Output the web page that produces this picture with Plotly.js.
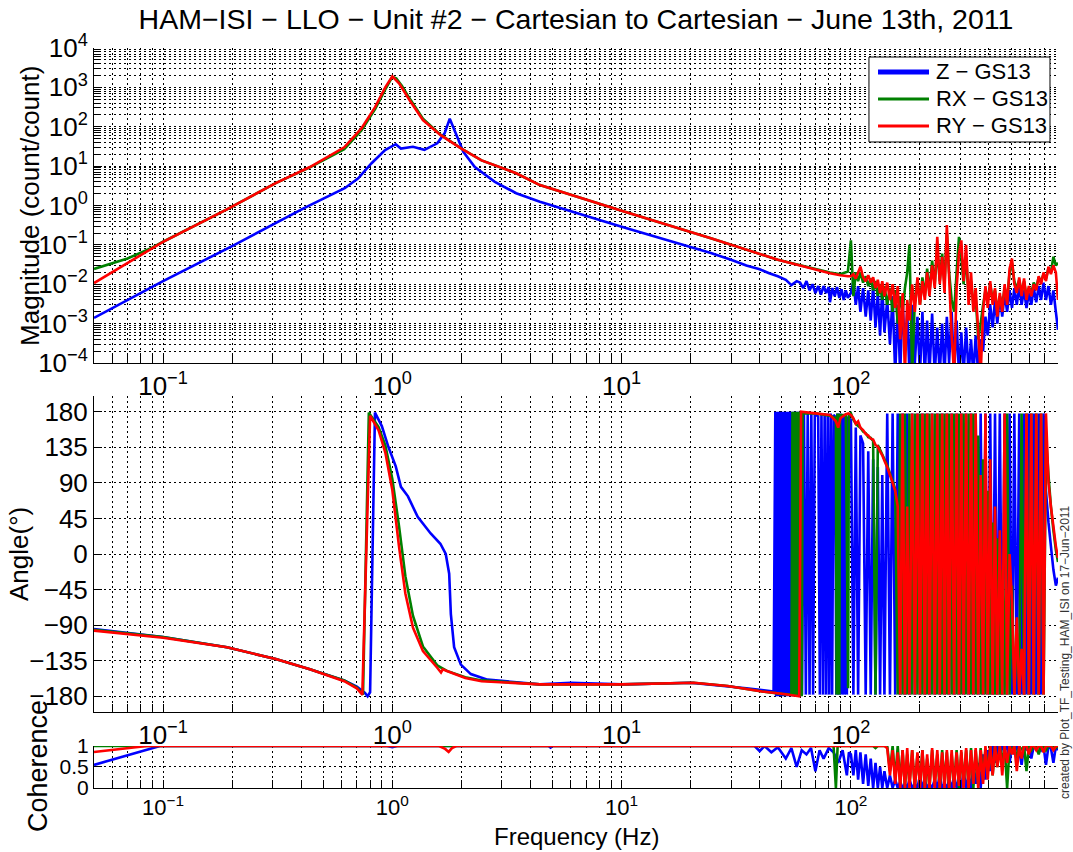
<!DOCTYPE html>
<html>
<head>
<meta charset="utf-8">
<script src="https://cdn.plot.ly/plotly-3.0.1.min.js"></script>
<style>html,body{margin:0;padding:0;background:#fff;}#chart{width:1073px;height:852px;}</style>
</head>
<body>
<div id="chart"></div>
<script>
// ================= DATA =================
const seriesNames = ['Z \u2212 GS13', 'RX \u2212 GS13', 'RY \u2212 GS13'];

// Shared high-frequency grid (Hz) for the noisy part of every series
const hfFreq = [100,102.5,105,107.5,110,113,116,119,122,125,
  128,131,134,137,140,144,148,152,156,160,
  164,168,172,176,180,185,190,195,200,205,
  210,215,220,226,232,238,244,250,256,262,
  268,275,282,289,296,303,310,318,326,334,
  342,350,359,368,377,386,395,405,415,425,
  435,446,457,468,480,492,504,516,529,542,
  555,569,583,597,612,627,643,659,675,692,
  709,727,745,764,783,800];

// ---- Magnitude (count/count) ----
const magFreqZ = [0.05,0.1,0.205,0.41,0.62,0.71,0.81,0.93,1.035,1.09,1.23,1.38,1.57,1.69,1.78,1.89,2.04,2.29,2.8,3.47,4.4,10,24.5,30,35,40,44,48,52,55,58,60,62,64,66,68,70,72,74,76,78,80,81,83,85,87,89,91,93,95,97];
const magZ = [1.4e-3,1.2e-2,0.1,0.85,2.75,4.9,11.7,25.7,36,28,31,26,38,68,160,68,23,9.5,4,2.05,1.25,0.29,0.062,0.042,0.03,0.024,0.019,0.016,0.013,0.0095,0.012,0.011,0.008,0.012,0.007,0.010,0.006,0.009,0.0055,0.009,0.006,0.0085,0.0035,0.008,0.005,0.0085,0.0045,0.0075,0.004,0.007,0.0045];
const magZ_hf = [0.006,0.012,0.003,0.009,0.002,0.008,0.0015,0.007,0.0012,0.009,
  0.0008,0.006,0.0005,0.008,0.0006,0.004,0.0003,0.005,0.00005,0.003,
  0.00005,0.004,0.0002,0.002,0.00005,0.003,0.0001,0.0015,0.00005,0.002,
  0.00005,0.0012,0.00005,0.0018,0.00005,0.0008,0.00005,0.001,0.00005,0.0015,
  0.0001,0.002,0.00005,0.0012,0.00005,0.0006,0.00005,0.0008,0.00005,0.0004,
  0.00005,0.0005,0.00005,0.0004,0.0002,0.0015,0.0005,0.003,0.0008,0.004,
  0.001,0.005,0.0015,0.006,0.002,0.007,0.0025,0.008,0.003,0.009,
  0.003,0.007,0.0025,0.006,0.003,0.008,0.0035,0.009,0.004,0.011,
  0.004,0.009,0.003,0.007,0.002,0.0007];

const magFreqRX = [0.05,0.07,0.0896,0.1,0.19,0.31,0.437,0.617,0.733,0.841,0.933,1.0,1.04,1.1,1.19,1.36,1.62,2.0,2.45,3.47,4.4,10,24.5,48,81,90,97];
const magRX = [0.0245,0.045,0.085,0.12,0.8,3.7,9.3,27,80,280,900,1850,1700,1100,520,160,63,28,14,6.6,3.3,0.74,0.148,0.042,0.02,0.018,0.021];
const magRX_hf = [0.13,0.005,0.02,0.012,0.02,0.011,0.016,0.009,0.014,0.007,
  0.012,0.005,0.01,0.004,0.009,0.003,0.008,0.002,0.007,0.001,
  0.005,0.002,0.008,0.02,0.1,0.00005,0.004,0.012,0.003,0.015,
  0.005,0.025,0.006,0.04,0.01,0.08,0.012,0.06,0.01,0.2,
  0.02,0.004,0.002,0.02,0.16,0.05,0.01,0.05,0.005,0.012,
  0.003,0.005,0.0004,0.001,0.003,0.007,0.004,0.01,0.004,0.007,
  0.002,0.005,0.003,0.008,0.004,0.02,0.035,0.012,0.008,0.013,
  0.006,0.012,0.005,0.008,0.006,0.011,0.008,0.015,0.012,0.018,
  0.014,0.025,0.02,0.05,0.03,0.035];

const magFreqRY = [0.05,0.1,0.19,0.31,0.437,0.617,0.733,0.841,0.933,1.0,1.07,1.19,1.36,1.62,2.0,2.45,3.47,4.4,10,24.5,48,81,90,97];
const magRY = [0.0107,0.12,0.8,3.7,9.5,30,91,316,1020,1900,1260,470,148,62,28,14,6.6,3.3,0.74,0.148,0.042,0.019,0.017,0.016];
const magRY_hf = [0.016,0.018,0.014,0.02,0.028,0.015,0.012,0.017,0.011,0.015,
  0.008,0.013,0.006,0.012,0.005,0.011,0.004,0.01,0.0025,0.009,
  0.0004,0.006,0.00005,0.004,0.0012,0.01,0.002,0.015,0.003,0.012,
  0.004,0.02,0.005,0.03,0.008,0.16,0.01,0.05,0.006,0.32,
  0.015,0.0005,0.00005,0.008,0.06,0.13,0.012,0.1,0.003,0.02,
  0.002,0.008,0.0006,0.00005,0.002,0.009,0.0025,0.012,0.003,0.008,
  0.0015,0.006,0.002,0.01,0.003,0.025,0.045,0.01,0.006,0.015,
  0.005,0.014,0.004,0.009,0.005,0.01,0.007,0.016,0.01,0.02,
  0.012,0.028,0.018,0.03,0.02,0.004];

// ---- Phase (degrees) ----
const phFreqZ = [0.05,0.1,0.19,0.31,0.437,0.617,0.7,0.76,0.78,0.8,0.84,0.9,0.96,1.035,1.09,1.17,1.29,1.47,1.62,1.71,1.77,1.8,1.86,1.99,2.2,2.6,4.4,6,10,15,20,30,35,40,46,
  46.8,47.2,47.6,48,48.4,48.8,49.2,49.6,50,50.4,50.8,51.2,51.6,52,52.4,52.8,53.2,53.6,54,54.4,54.8,55.2,55.6,56,56.4,56.8,57.2,57.6,58,58.4,58.8,59.2,59.6,60,60.4,
  61.2,62.4,63.6,64.8,66,67.2,68.4,69.6,70.8,72,73.2,74.4,75.6,76.8,78,79.2,80.4,81.6,82.8,84,85.2,86.4,87.6,88.8,90,91.2,92.4,93.6,94.8,96,97.2];
const phaseZ = [-95,-105,-118,-133,-146,-160,-168,-176,-180,-175,179,162,136,111,85,73,47,26,13,0,-25,-76,-118,-140,-152,-159,-165,-163,-165,-164,-163,-168,-170,-172,-174,
  180,-180,180,-180,180,-180,180,-180,180,-180,180,-180,180,-180,180,-180,180,-180,180,-180,180,-180,180,-180,180,-180,180,-180,180,-180,180,-180,180,-180,180,
  -178,178,-178,178,-178,178,-178,178,176,174,-178,178,-178,178,-178,178,-178,178,-178,176,174,-178,178,-178,178,-178,176,-178,175,-178,172];
const phaseZ_hf = [170,-178,160,-178,150,140,-178,130,-178,120,
  -178,110,-178,100,-178,178,-178,178,-178,178,
  -178,178,-178,178,-178,178,-178,178,-178,178,
  -178,178,-178,178,-178,178,-178,178,-178,178,
  -178,178,-178,178,-178,178,-178,178,-178,178,
  -178,178,-178,178,-178,178,-178,178,-178,178,
  -178,178,-178,178,-178,178,-178,178,-178,178,
  -178,178,-178,178,-178,178,-178,178,-178,178,
  80,40,10,-20,-40,-30];

const phFreqRX = [0.05,0.1,0.19,0.31,0.437,0.617,0.7,0.745,0.79,0.87,0.933,1.0,1.07,1.14,1.23,1.36,1.57,1.73,2.08,2.45,4.4,10,20.6,29,41,50,55,55.6,56.2,56.8,57.4,58,58.6,59.2,59.8,60.4,61,61.6,70,81,86,86.6,87.2,87.8,88.4,89,89.6,95,97.2,98];
const phaseRX = [-96,-105,-118,-133,-146,-160,-169,-178,179,161,137,95,35,-28,-78,-117,-141,-148,-156,-160,-165,-165,-163,-167,-174,-177,-178,180,-180,180,-180,180,-180,180,-180,180,-180,178,178,175,172,-178,178,-178,178,-178,176,176,-170,176];
const phaseRX_hf = [178,170,165,162,160,155,153,148,147,143,
  -178,138,132,126,120,112,102,92,82,-178,
  178,-178,178,-178,178,-178,178,-178,178,-178,
  178,-178,178,-178,178,-178,178,-178,178,-178,
  178,-178,178,-178,178,-178,178,-178,178,-178,
  178,-178,150,-178,120,-178,80,-178,40,-178,
  20,-178,-20,-178,178,-178,-40,-178,-100,-178,
  178,-178,178,-178,178,-178,178,-178,178,-178,
  150,100,60,30,5,-10];

const phFreqRY = [0.05,0.1,0.19,0.31,0.437,0.617,0.7,0.74,0.8,0.87,0.933,1.0,1.07,1.14,1.23,1.36,1.57,1.63,1.66,1.73,2.08,2.45,4.4,10,20.6,29,41,50,59.5,60.6,70,81,86,88,90,95,97.5];
const phaseRY = [-97,-106,-118,-133,-146,-161,-170,-178,175,157,128,81,9,-50,-93,-123,-144,-150,-146,-148,-157,-161,-165,-165,-163,-167,-174,-177,-180,180,178,176,168,160,172,177,178];
const phaseRY_hf = [176,172,165,168,160,157,152,150,146,145,
  138,136,130,125,118,110,100,90,80,60,
  -178,178,-178,60,-178,178,-178,178,-178,178,
  -178,178,-178,178,-178,178,-178,178,-178,178,
  -178,178,-178,178,-178,178,-178,178,-178,178,
  -178,178,-178,100,-178,178,-178,120,-178,60,
  -178,30,-178,178,-178,0,-60,-178,-80,-178,
  -120,-178,178,-178,178,-178,178,-178,178,-178,
  178,90,60,35,10,-5];

// ---- Coherence ----
const cohFreqZ = [0.05,0.097,0.95,1.0,1.05,4.8,4.9,5.0,38,40,42,45,48,52,55,58,61,64,67,70,73,76,80,84,88,92,96,98];
const cohZ = [0.55,1.0,1.0,0.97,1.0,1.0,0.96,1.0,1.0,0.88,1.0,0.85,0.97,0.7,0.95,0.5,0.9,0.8,0.95,0.4,0.9,0.7,0.95,0.85,0.6,0.9,0.3,0.85];
const cohZ_hf = [0.8,0.3,0.9,0.2,0.85,0.1,0.8,0.05,0.7,0.0,
  0.6,0.0,0.5,0.0,0.4,0.0,0.3,0.0,0.2,0.0,
  0.15,0.0,0.1,0.0,0.2,0.0,0.1,0.0,0.3,0.0,
  0.2,0.0,0.1,0.0,0.2,0.0,0.3,0.0,0.1,0.0,
  0.2,0.0,0.3,0.0,0.2,0.0,0.4,0.0,0.3,0.0,
  0.5,0.1,0.6,0.0,0.8,0.2,0.9,0.4,1.0,0.6,
  1.0,0.7,1.0,0.9,1.0,0.6,1.0,0.8,1.0,0.9,
  0.55,1.0,0.9,1.0,0.7,1.0,0.95,1.0,0.9,1.0,
  0.55,1.0,0.95,0.6,1.0,0.9];

const cohFreqRX = [0.05,84,86,87.5,98];
const cohRX = [1.0,1.0,0.0,1.0,1.0];
const cohRX_hf = [1.0,1.0,1.0,1.0,1.0,1.0,1.0,1.0,1.0,1.0,
  0.95,1.0,1.0,1.0,1.0,1.0,0.4,1.0,0.2,1.0,
  0.1,0.9,0.0,0.8,0.1,0.9,0.0,0.8,0.1,0.9,
  0.0,0.7,0.0,0.9,0.1,0.8,0.0,0.9,0.1,0.85,
  0.0,0.8,0.1,0.9,0.0,0.85,0.1,0.9,0.0,0.95,
  0.0,0.9,0.1,0.95,0.2,0.9,0.4,1.0,0.3,1.0,
  0.5,1.0,0.6,1.0,0.0,1.0,0.9,1.0,0.7,1.0,
  0.9,1.0,0.4,1.0,0.9,1.0,1.0,0.8,1.0,1.0,
  0.9,1.0,1.0,1.0,0.95,1.0];

const cohFreqRY = [0.05,0.085,1.6,1.7,1.76,1.82,1.9,98];
const cohRY = [0.857,1.0,1.0,0.93,0.86,0.95,1.0,1.0];
const cohRY_hf = [1.0,1.0,1.0,1.0,1.0,1.0,1.0,1.0,1.0,1.0,
  1.0,1.0,1.0,1.0,1.0,0.95,0.3,0.9,0.1,0.85,
  0.0,0.9,0.0,0.95,0.0,0.9,0.0,0.85,0.0,0.9,
  0.0,0.8,0.0,0.95,0.0,0.9,0.0,0.85,0.0,0.9,
  0.0,0.9,0.0,0.85,0.05,0.9,0.0,0.95,0.0,0.9,
  0.1,0.95,0.0,0.9,0.1,1.0,0.2,1.0,0.3,1.0,
  0.5,1.0,0.3,1.0,0.6,1.0,0.8,1.0,0.4,1.0,
  0.7,1.0,1.0,0.8,1.0,1.0,0.9,1.0,1.0,0.85,
  1.0,1.0,1.0,0.9,1.0,1.0];

// ---- Tick labels ----
const xTickVals = [0.1, 1, 10, 100];
const xTickText = ['10<sup>\u22121</sup>', '10<sup>0</sup>', '10<sup>1</sup>', '10<sup>2</sup>'];
const magTickVals = [1e-4,1e-3,1e-2,1e-1,1,10,100,1000,10000];
const magTickText = ['10<sup>\u22124</sup>','10<sup>\u22123</sup>','10<sup>\u22122</sup>','10<sup>\u22121</sup>','10<sup>0</sup>','10<sup>1</sup>','10<sup>2</sup>','10<sup>3</sup>','10<sup>4</sup>'];
const phaseTickVals = [-180,-135,-90,-45,0,45,90,135,180];
const phaseTickText = ['\u2212180','\u2212135','\u221290','\u221245','0','45','90','135','180'];
const cohTickVals = [0, 0.5, 1];
const cohTickText = ['0', '0.5', '1'];

// ================= STYLE =================
const colors = ['#0000ff', '#008000', '#ff0000'];
const FONT = 'Liberation Sans, Arial, Helvetica, sans-serif';
const GRIDDASH = '2px,3px';
const TICKFONT = {family: FONT, size: 26, color: '#000'};

function logMinor(lo, hi) {
  const v = [];
  for (let e = lo; e < hi; e++) for (let k = 2; k <= 9; k++) v.push(k * Math.pow(10, e));
  return v;
}
const xMinor = logMinor(-2, 3);
const yMinor = logMinor(-4, 4);

function xAxis(anchor, fontSize) {
  return {
    type: 'log', range: [Math.log10(0.05), Math.log10(800)], anchor: anchor,
    tickmode: 'array', tickvals: xTickVals, ticktext: xTickText,
    ticks: 'inside', ticklen: 8, tickcolor: '#000', tickwidth: 1,
    showline: true, linecolor: '#000', linewidth: 1, mirror: false,
    showgrid: true, gridcolor: '#000', gridwidth: 1, griddash: GRIDDASH,
    zeroline: false, tickfont: {family: FONT, size: fontSize, color: '#000'},
    minor: {tickmode: 'array', tickvals: xMinor, ticks: 'inside', ticklen: 8, tickcolor: '#000',
            showgrid: true, gridcolor: '#000', gridwidth: 1, griddash: GRIDDASH}
  };
}
function yBase(anchor, domain) {
  return {
    anchor: anchor, domain: domain,
    ticks: 'inside', ticklen: 8, tickcolor: '#000', tickwidth: 1,
    showline: true, linecolor: '#000', linewidth: 1, mirror: false,
    showgrid: true, gridcolor: '#000', gridwidth: 1, griddash: GRIDDASH,
    zeroline: false, tickmode: 'array', tickfont: TICKFONT
  };
}
const yMag = Object.assign(yBase('x', [0.5743, 1.0]), {
  type: 'log', range: [-4, 4], tickvals: magTickVals, ticktext: magTickText,
  minor: {tickmode: 'array', tickvals: yMinor, ticks: 'inside', ticklen: 6, tickcolor: '#000',
          showgrid: true, gridcolor: '#000', gridwidth: 1, griddash: GRIDDASH}
});
const yPh = Object.assign(yBase('x2', [0.1027, 0.5297]), {
  type: 'linear', range: [-200, 200], tickvals: phaseTickVals, ticktext: phaseTickText
});
const yCoh = Object.assign(yBase('x3', [0, 0.05676]), {
  type: 'linear', range: [0, 1], tickvals: cohTickVals, ticktext: cohTickText,
  tickfont: {family: FONT, size: 21, color: '#000'}
});

const LW = 2.6;
const magX = [magFreqZ.concat(hfFreq), magFreqRX.concat(hfFreq), magFreqRY.concat(hfFreq)];
const magY = [magZ.concat(magZ_hf), magRX.concat(magRX_hf), magRY.concat(magRY_hf)];
const phX = [phFreqZ.concat(hfFreq), phFreqRX.concat(hfFreq), phFreqRY.concat(hfFreq)];
const phY = [phaseZ.concat(phaseZ_hf), phaseRX.concat(phaseRX_hf), phaseRY.concat(phaseRY_hf)];
const coX = [cohFreqZ.concat(hfFreq), cohFreqRX.concat(hfFreq), cohFreqRY.concat(hfFreq)];
const coY = [cohZ.concat(cohZ_hf), cohRX.concat(cohRX_hf), cohRY.concat(cohRY_hf)];

const traces = [];
const panels = [[magX, magY, 'x', 'y'], [phX, phY, 'x2', 'y2'], [coX, coY, 'x3', 'y3']];
panels.forEach(function (p) {
  for (let i = 0; i < 3; i++) {
    traces.push({x: p[0][i], y: p[1][i], xaxis: p[2], yaxis: p[3], mode: 'lines',
      name: seriesNames[i], line: {color: colors[i], width: LW, simplify: false}, showlegend: false});
  }
});

// legend drawn as a boxed key in the top-right corner of the magnitude panel
const legendRowsY = [0.9676, 0.9311, 0.8946];
const legendLineW = [5, 3.2, 3.2];
const shapes = [{type: 'rect', xref: 'paper', yref: 'paper', x0: 0.8039, x1: 0.9917, y0: 0.873, y1: 0.9878,
  line: {color: '#000', width: 1}, fillcolor: '#fff', layer: 'above'}];
const annotations = [];
for (let i = 0; i < 3; i++) {
  shapes.push({type: 'line', xref: 'paper', yref: 'paper', x0: 0.8133, x1: 0.8662,
    y0: legendRowsY[i], y1: legendRowsY[i], line: {color: colors[i], width: legendLineW[i]}, layer: 'above'});
  annotations.push({text: seriesNames[i], xref: 'paper', yref: 'paper', x: 0.8714, y: legendRowsY[i],
    xanchor: 'left', yanchor: 'middle', showarrow: false, font: {family: FONT, size: 22, color: '#000'}});
}
annotations.push(
  {text: 'Magnitude (count/count)', xref: 'paper', yref: 'paper', x: -0.0664, y: 0.7865,
   xanchor: 'center', yanchor: 'middle', textangle: -90, showarrow: false,
   font: {family: FONT, size: 26, color: '#000'}},
  {text: 'Angle(\u00b0)', xref: 'paper', yref: 'paper', x: -0.0778, y: 0.3162,
   xanchor: 'center', yanchor: 'middle', textangle: -90, showarrow: false,
   font: {family: FONT, size: 26, color: '#000'}},
  {text: 'Coherence', xref: 'paper', yref: 'paper', x: -0.0581, y: 0.0297,
   xanchor: 'center', yanchor: 'middle', textangle: -90, showarrow: false,
   font: {family: FONT, size: 27, color: '#000'}},
  {text: 'Frequency (Hz)', xref: 'paper', yref: 'paper', x: 0.5, y: -0.0662,
   xanchor: 'center', yanchor: 'middle', showarrow: false, borderpad: 0,
   font: {family: FONT, size: 24, color: '#000'}},
  {text: 'created by Plot_TF_Testing_HAM_ISI on 17\u2212Jun\u22122011', xref: 'paper', yref: 'paper',
   x: 1.0073, y: 0.1838, xanchor: 'center', yanchor: 'middle', textangle: -90, showarrow: false,
   font: {family: FONT, size: 12, color: '#333'}}
);

const layout = {
  width: 1073, height: 852,
  margin: {l: 94, r: 15, t: 48, b: 64},
  paper_bgcolor: '#fff', plot_bgcolor: '#fff',
  font: {family: FONT, color: '#000'},
  showlegend: false,
  title: {text: 'HAM\u2212ISI \u2212 LLO \u2212 Unit #2 \u2212 Cartesian to Cartesian \u2212 June 13th, 2011',
          x: 0.5, xref: 'paper', xanchor: 'center', y: 0.978, yref: 'container', yanchor: 'middle',
          font: {family: FONT, size: 28.5, color: '#000'}},
  xaxis: xAxis('y', 26), xaxis2: xAxis('y2', 26), xaxis3: xAxis('y3', 22),
  yaxis: yMag, yaxis2: yPh, yaxis3: yCoh,
  shapes: shapes,
  annotations: annotations
};

Plotly.newPlot('chart', traces, layout, {displayModeBar: false, staticPlot: true});
</script>
</body>
</html>
